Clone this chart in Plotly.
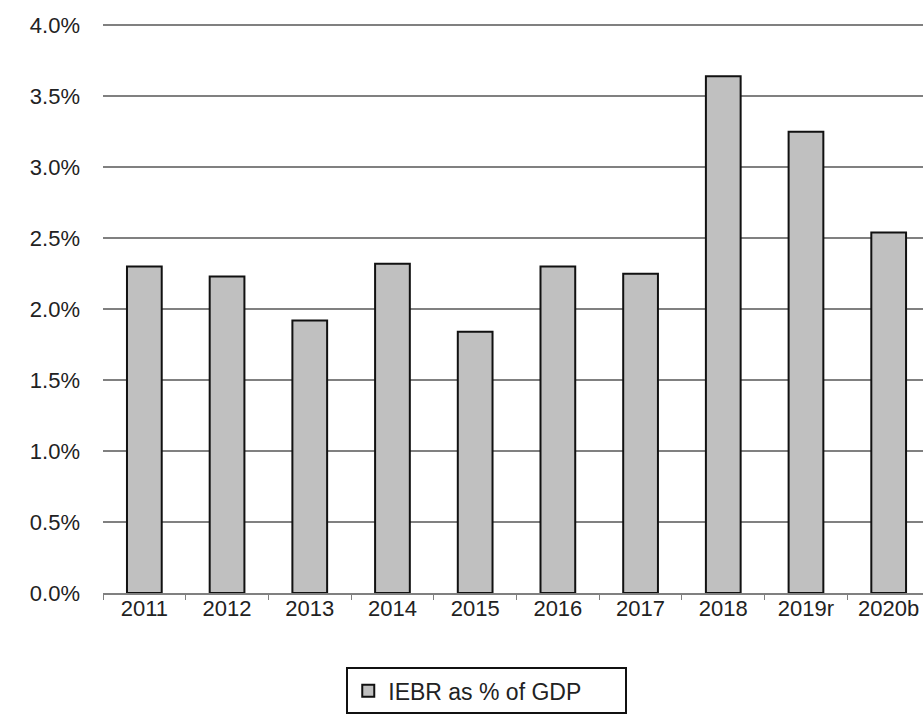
import plotly.graph_objects as go

# IEBR as a share of GDP, by year
years = ["2011", "2012", "2013", "2014", "2015", "2016", "2017", "2018", "2019r", "2020b"]
iebr_pct = [2.30, 2.23, 1.92, 2.32, 1.84, 2.30, 2.25, 3.64, 3.25, 2.54]
y_ticks = [0.0, 0.5, 1.0, 1.5, 2.0, 2.5, 3.0, 3.5, 4.0]
y_tick_text = [f"{v:.1f}%" for v in y_ticks]

FONT = "Liberation Sans, Arial, sans-serif"
TEXT = "#222222"

fig = go.Figure(
    go.Bar(
        x=years,
        y=iebr_pct,
        name="IEBR as % of GDP",
        width=0.42,
        marker=dict(color="#c0c0c0", line=dict(color="#111111", width=2)),
        showlegend=True,
    )
)

fig.update_layout(
    width=923,
    height=718,
    margin=dict(l=103, r=0, t=21, b=125),
    paper_bgcolor="white",
    plot_bgcolor="white",
    font=dict(family=FONT, size=22, color=TEXT),
    legend=dict(
        orientation="h",
        x=0.468,
        xanchor="center",
        y=-0.13,
        yanchor="top",
        bordercolor="#111111",
        borderwidth=2,
        font=dict(family=FONT, size=23, color=TEXT),
        itemwidth=30,
        entrywidth=232,
    ),
)

fig.update_xaxes(
    type="category",
    range=[-0.5, 9.415],
    showgrid=False,
    showline=True,
    linecolor="#808080",
    linewidth=2,
    ticks="outside",
    tickson="boundaries",
    ticklen=5,
    tickcolor="#808080",
    ticklabelstandoff=-5,
    tickfont=dict(family=FONT, size=22, color=TEXT),
)

fig.update_yaxes(
    range=[0, 4.03],
    tickvals=y_ticks,
    ticktext=y_tick_text,
    showgrid=True,
    gridcolor="#808080",
    gridwidth=2,
    zeroline=False,
    showline=False,
    ticklabelstandoff=22,
    tickfont=dict(family=FONT, size=22, color=TEXT),
)

fig.write_html("out.html")
